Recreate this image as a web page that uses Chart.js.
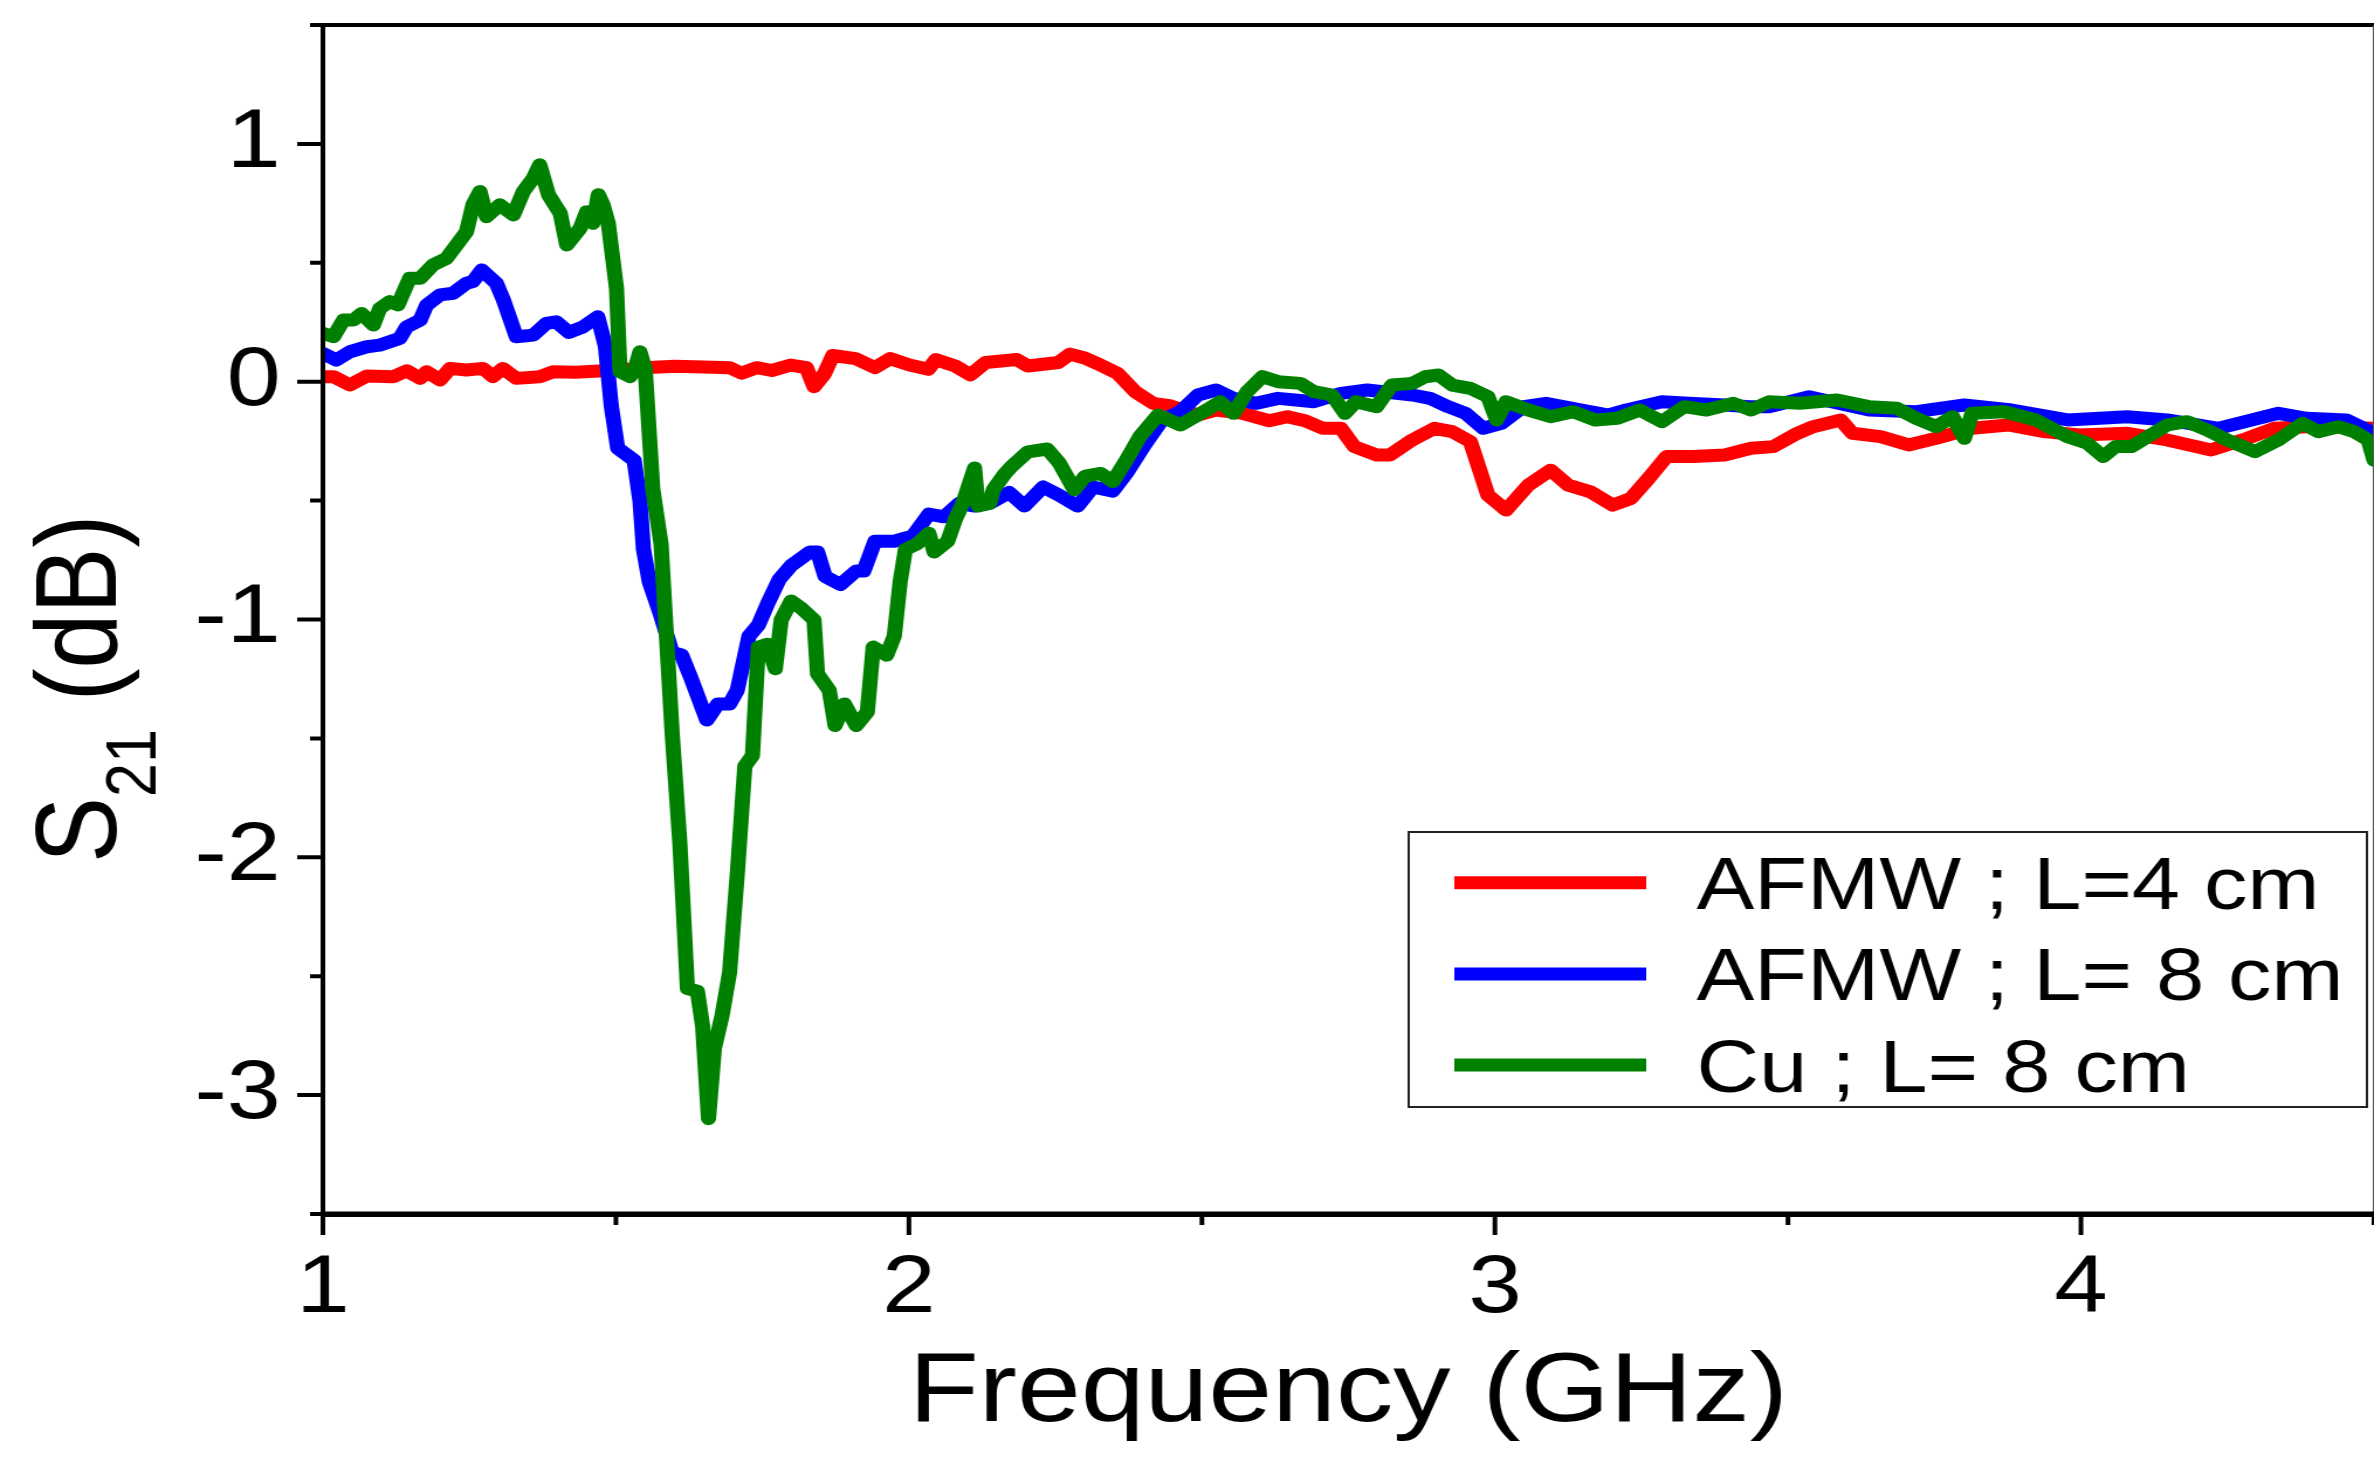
<!DOCTYPE html>
<html>
<head>
<meta charset="utf-8">
<script src="https://cdn.jsdelivr.net/npm/chart.js@4.4.1/dist/chart.umd.min.js"></script>
<style>
html,body{margin:0;padding:0;background:#ffffff;overflow:hidden;}
</style>
</head>
<body>
<canvas id="c" width="2029" height="1458" style="width:2374px;height:1458px;display:block;background:#ffffff"></canvas>
<script>
// ---------------- data (frequency in GHz, S21 in dB) ----------------
const afmw4cm = [
 [1.0,0.021],[1.018,0.021],[1.046,-0.014],[1.075,0.024],[1.12,0.021],[1.143,0.046],[1.166,0.014],[1.177,0.042],
 [1.2,0.007],[1.217,0.056],[1.245,0.049],[1.273,0.056],[1.29,0.021],[1.307,0.056],[1.33,0.014],[1.37,0.021],
 [1.393,0.042],[1.43,0.04],[1.472,0.045],[1.51,0.05],[1.557,0.06],[1.6,0.065],[1.65,0.062],[1.694,0.059],
 [1.714,0.036],[1.74,0.059],[1.766,0.047],[1.798,0.07],[1.825,0.059],[1.838,-0.021],[1.855,0.03],[1.87,0.11],
 [1.909,0.097],[1.942,0.059],[1.968,0.097],[2.001,0.07],[2.033,0.052],[2.046,0.093],[2.079,0.066],[2.105,0.029],
 [2.131,0.081],[2.184,0.093],[2.203,0.066],[2.255,0.081],[2.275,0.116],[2.3,0.1],[2.327,0.07],[2.356,0.035],
 [2.386,-0.042],[2.417,-0.091],[2.447,-0.102],[2.493,-0.14],[2.524,-0.119],[2.569,-0.133],[2.615,-0.164],
 [2.645,-0.147],[2.676,-0.164],[2.706,-0.196],[2.737,-0.196],[2.76,-0.273],[2.798,-0.308],[2.821,-0.308],
 [2.859,-0.245],[2.897,-0.196],[2.927,-0.21],[2.958,-0.252],[2.988,-0.477],[3.019,-0.54],[3.057,-0.435],
 [3.095,-0.372],[3.125,-0.435],[3.163,-0.463],[3.201,-0.519],[3.232,-0.491],[3.262,-0.407],[3.293,-0.315],
 [3.338,-0.315],[3.392,-0.308],[3.437,-0.28],[3.475,-0.273],[3.516,-0.217],[3.543,-0.189],[3.59,-0.161],
 [3.61,-0.217],[3.658,-0.231],[3.706,-0.266],[3.753,-0.238],[3.814,-0.196],[3.876,-0.182],[3.937,-0.21],
 [3.998,-0.224],[4.079,-0.217],[4.147,-0.245],[4.222,-0.287],[4.276,-0.245],[4.33,-0.196],[4.385,-0.189],
 [4.425,-0.189],[4.5,-0.196]
];
const afmw8cm = [
 [1.0,0.119],[1.023,0.091],[1.046,0.126],[1.075,0.147],[1.097,0.154],[1.131,0.182],[1.143,0.231],[1.166,0.259],
 [1.177,0.322],[1.2,0.365],[1.222,0.372],[1.245,0.414],[1.256,0.421],[1.271,0.47],[1.296,0.414],[1.308,0.344],
 [1.33,0.189],[1.359,0.196],[1.381,0.245],[1.398,0.252],[1.42,0.207],[1.444,0.231],[1.469,0.273],[1.482,0.15],
 [1.492,-0.1],[1.503,-0.28],[1.531,-0.33],[1.541,-0.5],[1.547,-0.705],[1.557,-0.842],[1.576,-0.979],
 [1.596,-1.138],[1.612,-1.149],[1.629,-1.252],[1.655,-1.423],[1.674,-1.355],[1.694,-1.355],[1.707,-1.298],
 [1.727,-1.07],[1.743,-1.024],[1.759,-0.933],[1.779,-0.83],[1.799,-0.773],[1.831,-0.716],[1.844,-0.716],
 [1.857,-0.819],[1.883,-0.853],[1.91,-0.796],[1.923,-0.796],[1.942,-0.671],[1.975,-0.671],[2.007,-0.648],
 [2.034,-0.557],[2.06,-0.568],[2.086,-0.511],[2.112,-0.523],[2.138,-0.511],[2.171,-0.466],[2.197,-0.523],
 [2.229,-0.443],[2.256,-0.477],[2.288,-0.523],[2.314,-0.443],[2.348,-0.46],[2.371,-0.385],[2.402,-0.266],
 [2.432,-0.161],[2.463,-0.126],[2.493,-0.056],[2.524,-0.035],[2.554,-0.07],[2.592,-0.091],[2.63,-0.07],
 [2.691,-0.084],[2.737,-0.049],[2.782,-0.035],[2.859,-0.056],[2.889,-0.07],[2.92,-0.105],[2.95,-0.133],
 [2.98,-0.196],[3.011,-0.175],[3.049,-0.105],[3.087,-0.091],[3.148,-0.119],[3.194,-0.14],[3.224,-0.119],
 [3.285,-0.084],[3.331,-0.091],[3.392,-0.098],[3.434,-0.105],[3.468,-0.105],[3.536,-0.063],[3.638,-0.119],
 [3.719,-0.126],[3.801,-0.098],[3.882,-0.119],[3.977,-0.161],[4.079,-0.147],[4.147,-0.161],[4.235,-0.196],
 [4.337,-0.133],[4.385,-0.154],[4.453,-0.161],[4.5,-0.217]
];
const cu8cm = [
 [1.0,0.203],[1.018,0.189],[1.035,0.259],[1.052,0.259],[1.066,0.287],[1.086,0.238],[1.097,0.308],[1.114,0.337],
 [1.128,0.323],[1.148,0.435],[1.166,0.435],[1.188,0.491],[1.211,0.519],[1.228,0.575],[1.245,0.631],[1.256,0.744],
 [1.268,0.8],[1.279,0.694],[1.302,0.744],[1.325,0.701],[1.342,0.8],[1.359,0.856],[1.37,0.912],[1.385,0.786],
 [1.405,0.708],[1.416,0.575],[1.439,0.645],[1.45,0.715],[1.461,0.666],[1.47,0.786],[1.478,0.744],[1.487,0.666],
 [1.501,0.393],[1.507,0.042],[1.524,0.021],[1.532,0.049],[1.541,0.126],[1.55,0.05],[1.563,-0.454],[1.577,-0.682],
 [1.596,-1.48],[1.609,-1.936],[1.622,-2.552],[1.639,-2.563],[1.648,-2.711],[1.658,-3.099],[1.668,-2.803],
 [1.681,-2.666],[1.694,-2.484],[1.707,-2.073],[1.72,-1.617],[1.733,-1.572],[1.743,-1.116],[1.759,-1.104],
 [1.772,-1.207],[1.782,-1.002],[1.799,-0.922],[1.818,-0.956],[1.838,-1.002],[1.844,-1.229],[1.864,-1.298],
 [1.874,-1.446],[1.89,-1.355],[1.91,-1.446],[1.929,-1.389],[1.939,-1.116],[1.962,-1.15],[1.975,-1.07],
 [1.985,-0.842],[1.994,-0.705],[2.014,-0.682],[2.034,-0.637],[2.043,-0.716],[2.066,-0.671],[2.079,-0.58],
 [2.092,-0.511],[2.112,-0.363],[2.118,-0.523],[2.138,-0.511],[2.144,-0.454],[2.164,-0.386],[2.177,-0.352],
 [2.203,-0.295],[2.236,-0.283],[2.256,-0.34],[2.282,-0.454],[2.301,-0.397],[2.327,-0.386],[2.348,-0.42],
 [2.371,-0.33],[2.394,-0.231],[2.425,-0.14],[2.463,-0.182],[2.508,-0.119],[2.531,-0.084],[2.554,-0.133],
 [2.577,-0.042],[2.603,0.021],[2.63,0.0],[2.668,-0.007],[2.691,-0.042],[2.722,-0.056],[2.744,-0.133],
 [2.763,-0.084],[2.798,-0.105],[2.824,-0.014],[2.859,-0.007],[2.881,0.021],[2.904,0.028],[2.927,-0.014],
 [2.958,-0.028],[2.988,-0.063],[3.003,-0.161],[3.019,-0.084],[3.057,-0.119],[3.095,-0.147],[3.133,-0.126],
 [3.171,-0.161],[3.209,-0.154],[3.247,-0.119],[3.285,-0.168],[3.323,-0.105],[3.361,-0.119],[3.407,-0.091],
 [3.437,-0.119],[3.468,-0.084],[3.52,-0.091],[3.584,-0.077],[3.638,-0.105],[3.686,-0.112],[3.719,-0.154],
 [3.753,-0.189],[3.781,-0.147],[3.801,-0.238],[3.814,-0.133],[3.869,-0.126],[3.923,-0.161],[3.977,-0.231],
 [4.011,-0.259],[4.038,-0.315],[4.059,-0.273],[4.086,-0.273],[4.147,-0.182],[4.181,-0.168],[4.215,-0.203],
 [4.249,-0.245],[4.297,-0.294],[4.337,-0.245],[4.378,-0.175],[4.405,-0.21],[4.439,-0.189],[4.466,-0.21],
 [4.49,-0.245],[4.5,-0.33]
];
const seriesLabels = ['AFMW ; L=4 cm', 'AFMW ; L= 8 cm', 'Cu ; L= 8 cm'];
const seriesColors = ['#ff0000', '#0000ff', '#008000'];
const xMajorTicks = [1, 2, 3, 4];
const xMinorTicks = [1.5, 2.5, 3.5, 4.5];
const yMajorTicks = [-3, -2, -1, 0, 1];
const yMinorTicks = [-3.5, -2.5, -1.5, -0.5, 0.5, 1.5];
const xTitle = 'Frequency (GHz)';
const yTitleMain = 'S', yTitleSub = '21', yTitleUnit = ' (dB)';

// ---------------- chart ----------------
const FONT = "'Liberation Sans', Arial, Helvetica, sans-serif";
const toXY = arr => arr.map(p => ({x: p[0], y: p[1]}));

const decorations = {
  id: 'decorations',
  afterDatasetsDraw(chart) {
    const {ctx, chartArea: a, scales} = chart;
    const xs = scales.x, ys = scales.y;
    ctx.save();
    ctx.strokeStyle = '#000';
    ctx.lineCap = 'butt';
    // frame
    ctx.lineWidth = 4;
    ctx.beginPath();
    ctx.moveTo(a.left - 2, a.top); ctx.lineTo(a.right, a.top);
    ctx.moveTo(a.left, a.top - 2); ctx.lineTo(a.left, a.bottom + 2);
    ctx.stroke();
    ctx.lineWidth = 2;
    ctx.strokeStyle = '#555';
    ctx.beginPath();
    ctx.moveTo(a.right, a.top); ctx.lineTo(a.right, a.bottom);
    ctx.stroke();
    ctx.strokeStyle = '#000';
    ctx.lineWidth = 5;
    ctx.beginPath();
    ctx.moveTo(a.left - 2, a.bottom); ctx.lineTo(a.right, a.bottom);
    ctx.stroke();
    // tick marks
    ctx.lineWidth = 4;
    ctx.beginPath();
    yMajorTicks.forEach(v => { const p = ys.getPixelForValue(v); ctx.moveTo(a.left, p); ctx.lineTo(a.left - 22, p); });
    yMinorTicks.forEach(v => { const p = ys.getPixelForValue(v); ctx.moveTo(a.left, p); ctx.lineTo(a.left - 11, p); });
    xMajorTicks.forEach(v => { const p = xs.getPixelForValue(v); ctx.moveTo(p, a.bottom); ctx.lineTo(p, a.bottom + 21); });
    xMinorTicks.forEach(v => { const p = xs.getPixelForValue(v); ctx.moveTo(p, a.bottom); ctx.lineTo(p, a.bottom + 11); });
    ctx.stroke();
    ctx.restore();
  },
  afterDraw(chart) {
    const {ctx, chartArea: a} = chart;
    ctx.save();
    ctx.fillStyle = '#000';
    ctx.textBaseline = 'alphabetic';
    // x title
    ctx.font = '98px ' + FONT;
    ctx.textAlign = 'center';
    ctx.fillText(xTitle, (a.left + a.right) / 2, 1421);
    // y title (rotated, with subscript)
    ctx.textAlign = 'left';
    ctx.save();
    ctx.translate(99, 863);
    ctx.rotate(-Math.PI / 2);
    ctx.font = '99px ' + FONT;
    ctx.fillText(yTitleMain, 0, 0);
    let w = ctx.measureText(yTitleMain).width;
    ctx.font = '61px ' + FONT;
    ctx.fillText(yTitleSub, w, 34);
    w += ctx.measureText(yTitleSub).width;
    ctx.font = '99px ' + FONT;
    ctx.fillText(yTitleUnit, w, 0);
    ctx.restore();
    // legend box
    const box = {left: 1204, top: 832, right: 2023, bottom: 1107};
    ctx.fillStyle = '#fff';
    ctx.fillRect(box.left, box.top, box.right - box.left, box.bottom - box.top);
    ctx.strokeStyle = '#222';
    ctx.lineWidth = 2;
    ctx.strokeRect(box.left, box.top, box.right - box.left, box.bottom - box.top);
    chart.data.datasets.forEach((ds, i) => {
      const cy = 882.7 + i * 91.2;
      ctx.strokeStyle = ds.borderColor;
      ctx.lineWidth = 13;
      ctx.lineCap = 'butt';
      ctx.beginPath();
      ctx.moveTo(1243, cy); ctx.lineTo(1407, cy);
      ctx.stroke();
      ctx.fillStyle = '#000';
      ctx.font = '74px ' + FONT;
      ctx.fillText(ds.label, 1450, cy + 26.5);
    });
    ctx.restore();
  }
};

const common = {borderWidth: 13, pointRadius: 0, pointHoverRadius: 0, tension: 0, fill: false,
  borderJoinStyle: 'round', borderCapStyle: 'round'};

new Chart(document.getElementById('c'), {
  type: 'line',
  data: {
    datasets: [
      Object.assign({label: seriesLabels[0], data: toXY(afmw4cm), borderColor: seriesColors[0], backgroundColor: seriesColors[0], order: 2}, common),
      Object.assign({label: seriesLabels[1], data: toXY(afmw8cm), borderColor: seriesColors[1], backgroundColor: seriesColors[1], order: 1}, common),
      Object.assign({label: seriesLabels[2], data: toXY(cu8cm), borderColor: seriesColors[2], backgroundColor: seriesColors[2], order: 0}, common)
    ]
  },
  options: {
    responsive: false,
    devicePixelRatio: 1,
    animation: false,
    events: [],
    layout: {padding: {left: 0, right: 0, top: 25, bottom: 0}},
    plugins: {legend: {display: false}, tooltip: {enabled: false}, title: {display: false}},
    scales: {
      x: {
        type: 'linear', position: 'bottom', min: 1, max: 4.5,
        afterBuildTicks: s => { s.ticks = xMajorTicks.map(v => ({value: v})); },
        afterFit: s => { s.height = 244; s.paddingLeft = 0; s.paddingRight = 0; },
        grid: {display: false, drawTicks: false, tickLength: 0},
        border: {display: true, color: '#000', width: 5},
        ticks: {font: {family: FONT, size: 82}, color: '#000', padding: 26, maxRotation: 0, autoSkip: false,
                callback: v => String(v)}
      },
      y: {
        type: 'linear', position: 'left', min: -3.5, max: 1.5,
        afterBuildTicks: s => { s.ticks = yMajorTicks.map(v => ({value: v})); },
        afterFit: s => { s.width = 276; s.paddingTop = 0; s.paddingBottom = 0; },
        grid: {display: false, drawTicks: false, tickLength: 0},
        border: {display: true, color: '#000', width: 4},
        ticks: {font: {family: FONT, size: 83}, color: '#000', padding: 36, autoSkip: false,
                callback: v => String(v)}
      }
    }
  },
  plugins: [decorations]
});
</script>
</body>
</html>
